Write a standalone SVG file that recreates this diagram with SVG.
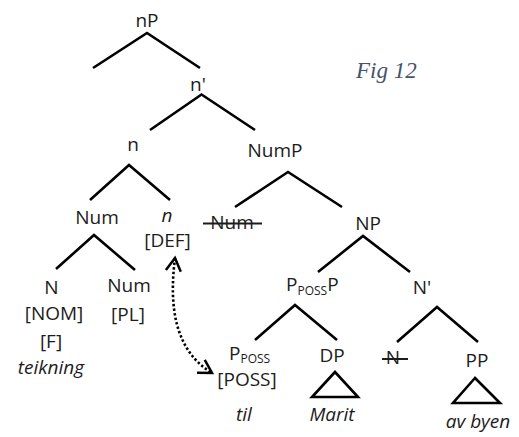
<svg xmlns="http://www.w3.org/2000/svg" width="519" height="437" viewBox="0 0 519 437">
  <style>
    .lbl{font-family:"Open Sans","Liberation Sans",sans-serif;font-size:19px;fill:#1c1c1c;text-anchor:middle}
    .start{text-anchor:start}
    .it{font-style:italic}
    .sub{font-size:12px}
    .edge{stroke:#000;stroke-width:2.6;fill:none;stroke-linejoin:miter}
    .strike{stroke:#1c1c1c;stroke-width:2}
    .dots{stroke:#000;stroke-width:2.6;fill:none;stroke-dasharray:2.4 2.2}
    .caption{font-family:"Liberation Serif",serif;font-style:italic;font-size:23px;fill:#44546a}
  </style>
  <defs>
    <marker id="vhead" markerUnits="userSpaceOnUse" markerWidth="18" markerHeight="18" refX="13" refY="7.5" orient="auto-start-reverse" overflow="visible">
      <path d="M0,0 L13,7.5 L0,15" fill="none" stroke="#000" stroke-width="2.5"/>
    </marker>
  </defs>

  <rect width="519" height="437" fill="#fff"/>

  <!-- branches -->
  <g id="connectors">
    <path class="edge" d="M93,68 L147,33 L200,68"/>
    <path class="edge" d="M150,130 L201.5,94.5 L255,130"/>
    <path class="edge" d="M90,200 L129,165 L170,200"/>
    <path class="edge" d="M235,207 L288,172 L342,207"/>
    <path class="edge" d="M56,269 L94,235 L135,270"/>
    <path class="edge" d="M318,272 L363,236 L410,272"/>
    <path class="edge" d="M255,340 L295,305 L337,340"/>
    <path class="edge" d="M397,342 L437,307 L478,342"/>
    <!-- roof triangles -->
    <path class="edge" d="M335,372 L312,397 L358,397 Z"/>
    <path class="edge" d="M475,378 L453,403 L500,403 Z"/>
    <!-- dotted movement arrow -->
    <path class="dots" d="M175,258 C169,305 174,350 212,373" marker-start="url(#vhead)" marker-end="url(#vhead)"/>
  </g>

  <g id="nP"><text class="lbl" x="147" y="27">nP</text></g>
  <g id="n-bar"><text class="lbl" x="198" y="91">n'</text></g>
  <g id="n"><text class="lbl" x="133" y="151">n</text></g>
  <g id="NumP"><text class="lbl" x="275" y="157">NumP</text></g>
  <g id="Num"><text class="lbl" x="97" y="224">Num</text></g>
  <g id="n-head">
    <text class="lbl it" x="167" y="222">n</text>
    <text class="lbl" x="167.5" y="247">[DEF]</text>
  </g>
  <g id="Num-copy">
    <text class="lbl" x="232" y="229">Num</text>
    <line class="strike" x1="203" y1="223.5" x2="262" y2="223.5"/>
  </g>
  <g id="NP"><text class="lbl" x="368" y="230">NP</text></g>
  <g id="PpossP"><text class="lbl start" x="286" y="291">P<tspan class="sub" dy="4">POSS</tspan><tspan dy="-4">P</tspan></text></g>
  <g id="N-bar"><text class="lbl" x="422" y="294">N'</text></g>
  <g id="N-head">
    <text class="lbl" x="51.5" y="294">N</text>
    <text class="lbl" x="54" y="320">[NOM]</text>
    <text class="lbl" x="51" y="348">[F]</text>
    <text class="lbl it" x="51" y="374">teikning</text>
  </g>
  <g id="Num-head">
    <text class="lbl" x="129" y="292">Num</text>
    <text class="lbl" x="128" y="321">[PL]</text>
  </g>
  <g id="Pposs">
    <text class="lbl start" x="229" y="360">P<tspan class="sub" dy="3">POSS</tspan></text>
    <text class="lbl" x="247" y="386">[POSS]</text>
    <text class="lbl it" x="244" y="421">til</text>
  </g>
  <g id="DP">
    <text class="lbl" x="332" y="362">DP</text>
    <text class="lbl it" x="332" y="421">Marit</text>
  </g>
  <g id="N-copy">
    <text class="lbl" x="393" y="364">N</text>
    <line class="strike" x1="382" y1="359" x2="408" y2="359"/>
  </g>
  <g id="PP">
    <text class="lbl" x="477" y="367">PP</text>
    <text class="lbl it" x="478" y="428">av byen</text>
  </g>

  <text class="caption" x="356" y="78">Fig 12</text>
</svg>
